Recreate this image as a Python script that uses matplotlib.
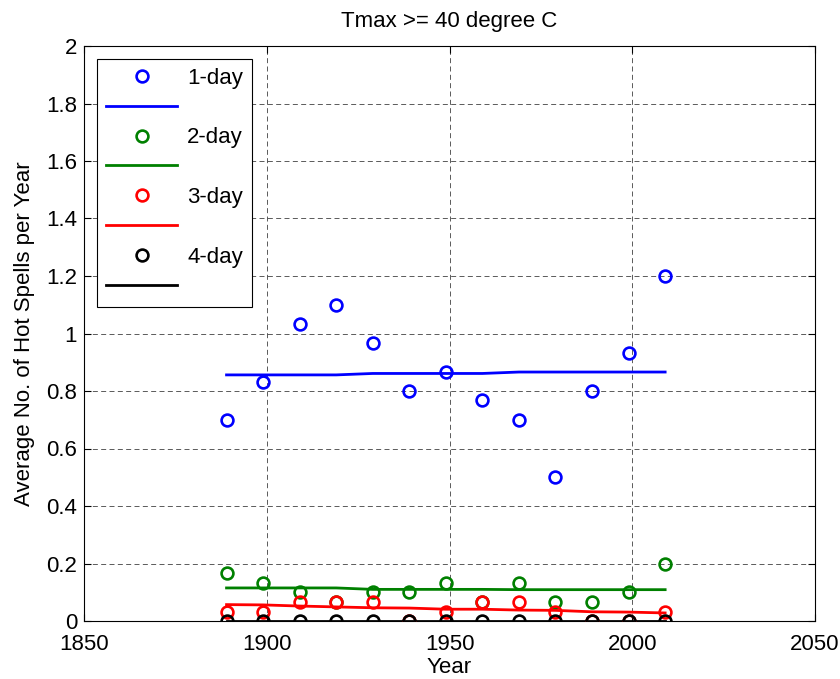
import numpy as np
import matplotlib.pyplot as plt
from matplotlib.ticker import FuncFormatter

plt.rcParams['font.family'] = ['Liberation Sans', 'DejaVu Sans']

# decade centres
years = [1889, 1899, 1909, 1919, 1929, 1939, 1949, 1959, 1969, 1979, 1989, 1999, 2009]

# average number of hot spells per year (points)
spell_1day = [0.700, 0.833, 1.033, 1.100, 0.967, 0.800, 0.867, 0.767, 0.700, 0.500, 0.800, 0.933, 1.200]
spell_2day = [0.167, 0.133, 0.100, 0.067, 0.100, 0.100, 0.133, 0.067, 0.133, 0.067, 0.067, 0.100, 0.200]
spell_3day = [0.033, 0.033, 0.067, 0.067, 0.067, 0.000, 0.033, 0.067, 0.067, 0.033, 0.000, 0.000, 0.033]
spell_4day = [0.0] * 13

# fitted trend lines
fit_1day = [0.856, 0.856, 0.856, 0.856, 0.861, 0.861, 0.861, 0.861, 0.866, 0.866, 0.866, 0.866, 0.866]
fit_2day = [0.115, 0.115, 0.115, 0.115, 0.110, 0.110, 0.110, 0.110, 0.109, 0.109, 0.109, 0.109, 0.109]
fit_3day = [0.057, 0.056, 0.052, 0.049, 0.046, 0.045, 0.041, 0.041, 0.038, 0.037, 0.032, 0.031, 0.028]
fit_4day = [0.0] * 13

labels = ['1-day', '2-day', '3-day', '4-day']
colors = ['#0000ff', '#008000', '#ff0000', '#000000']

fig = plt.figure(figsize=(8.4, 6.79), dpi=100)
ax = fig.add_axes([84 / 840, 58 / 679, 731 / 840, 575 / 679])

handles = []
legend_labels = []
series = [(spell_1day, fit_1day), (spell_2day, fit_2day), (spell_3day, fit_3day), (spell_4day, fit_4day)]
for (pts, fit), lab, col in zip(series, labels, colors):
    m, = ax.plot(years, pts, 'o', mfc='none', mec=col, ms=8.5, mew=1.9, zorder=3)
    l, = ax.plot(years, fit, '-', color=col, lw=2.0, zorder=3)
    handles += [m, l]
    legend_labels += [lab, ' ']

ax.set_xlim(1850, 2050)
ax.set_ylim(0, 2)
ax.set_xticks(np.arange(1850, 2051, 50))
ax.set_yticks(np.arange(0, 2.01, 0.2))
ax.yaxis.set_major_formatter(FuncFormatter(lambda v, p: f'{v:g}'))
ax.tick_params(direction='in', top=True, right=True, labelsize=16, length=5, width=0.8)
ax.tick_params(axis='x', pad=9.5)
ax.tick_params(axis='y', pad=5)
ax.grid(True, color='black', linestyle=(0, (6, 4)), linewidth=0.6, alpha=0.75)
for s in ax.spines.values():
    s.set_linewidth(0.8)

ax.set_title('Tmax >= 40 degree C', fontsize=16, pad=14)
ax.set_xlabel('Year', fontsize=16, labelpad=1.5)
ax.set_ylabel('Average No. of Hot Spells per Year', fontsize=16, labelpad=8)

leg = ax.legend(handles, legend_labels, loc='upper left', bbox_to_anchor=(0.0182, 0.978),
                borderaxespad=0, fontsize=16, fancybox=False, framealpha=1, edgecolor='black',
                handlelength=3.2, handletextpad=0.45, labelspacing=0.4, borderpad=0.4,
                numpoints=1)
leg.get_frame().set_linewidth(0.8)

fig.savefig('out.png', dpi=100)
